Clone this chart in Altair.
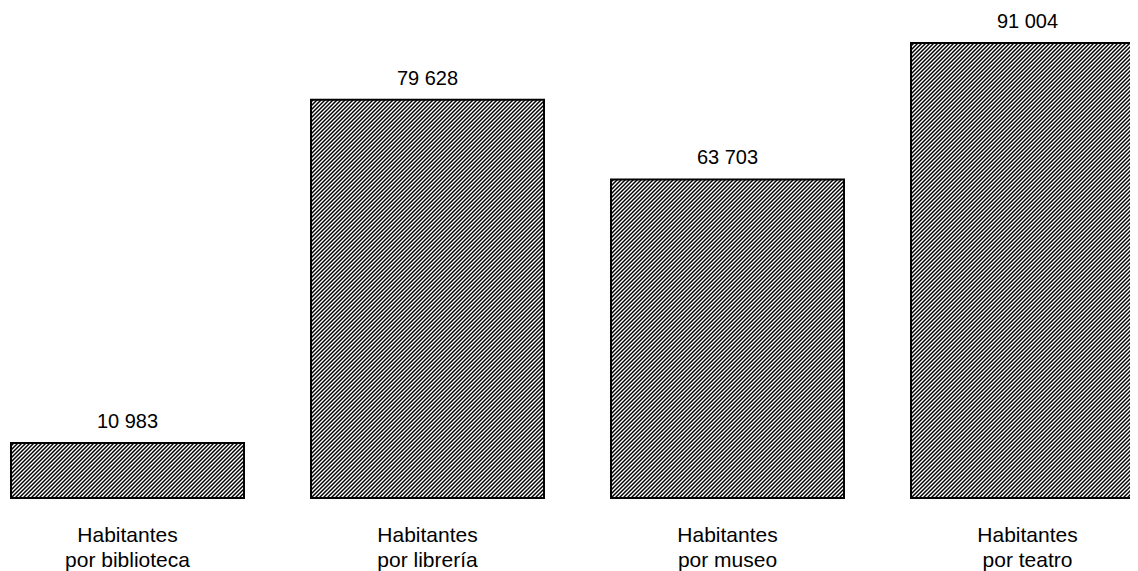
import altair as alt
import pandas as pd
from urllib.parse import quote

categories = ["Habitantes|por biblioteca", "Habitantes|por librería", "Habitantes|por museo", "Habitantes|por teatro"]
values = [10983, 79628, 63703, 91004]

df = pd.DataFrame({"cat": categories, "v": values})

# layout constants
PLOT_W = 1122          # visible svg width (page is 1138 with 8px margins)
RANGE_W = 1139         # x range extends past the visible edge, as in the reference
PLOT_H = 490
Y_MAX = 98000
P_INNER = 67 / 300
P_OUTER = 0.01
step = RANGE_W / (len(categories) - P_INNER + 2 * P_OUTER)
band_w = step * (1 - P_INNER)

FONT = "Liberation Sans"


def hatch_uri(w, h):
    # pattern tiles anchored at the bottom edge so that lines sit on the pixel grid
    svg = (
        "<svg xmlns='http://www.w3.org/2000/svg' width='{w:.3f}' height='{h:.3f}' "
        "viewBox='0 0 {w:.3f} {h:.3f}' preserveAspectRatio='none'>"
        "<defs><pattern id='p' x='0' y='{h:.3f}' width='4' height='4' patternUnits='userSpaceOnUse'>"
        "<path d='M-1,1 l2,-2 M0,4 l4,-4 M3,5 l2,-2' stroke='black' stroke-width='1.5'/>"
        "</pattern></defs>"
        "<rect width='{w:.3f}' height='{h:.3f}' fill='white'/>"
        "<rect width='{w:.3f}' height='{h:.3f}' fill='url(#p)'/></svg>"
    ).format(w=w, h=h)
    return "data:image/svg+xml;charset=utf-8," + quote(svg)


x_enc = alt.X(
    "cat:N",
    sort=categories,
    title=None,
    scale=alt.Scale(range=[0, RANGE_W], paddingInner=P_INNER, paddingOuter=P_OUTER),
    axis=alt.Axis(
        domain=False,
        ticks=False,
        tickSize=0,
        labelPadding=26,
        labelFontSize=21,
        labelFont=FONT,
        labelColor="#000000",
        labelLineHeight=25,
        labelAngle=0,
        labelExpr="split(datum.label, '|')",
    ),
)
y_enc = alt.Y("v:Q", scale=alt.Scale(domain=[0, Y_MAX], nice=False), axis=None)

base = alt.Chart(df)
layers = []
for c, v in zip(categories, values):
    h = v * PLOT_H / Y_MAX
    layers.append(
        base.transform_filter(alt.datum.cat == c)
        .mark_image(
            url=hatch_uri(band_w, h),
            width=band_w,
            height=h,
            align="center",
            baseline="top",
            aspect=False,
        )
        .encode(x=x_enc, y=y_enc)
    )

outline = base.mark_bar(fill="white", fillOpacity=0, stroke="#000000", strokeWidth=2).encode(
    x=x_enc, y=y_enc
)

labels = base.transform_calculate(
    lab="replace(format(datum.v, ','), ',', ' ')"
).mark_text(
    baseline="alphabetic", dy=-15, fontSize=20, font=FONT, color="#000000"
).encode(x=x_enc, y=y_enc, text="lab:N")

chart = alt.layer(*layers, outline, labels).properties(
    width=PLOT_W,
    height=PLOT_H,
    autosize="none",
    padding={"left": 0, "top": 0, "right": 0, "bottom": 80},
).configure_view(stroke=None)

chart.save("out.html", embed_options={"renderer": "svg", "actions": False})
